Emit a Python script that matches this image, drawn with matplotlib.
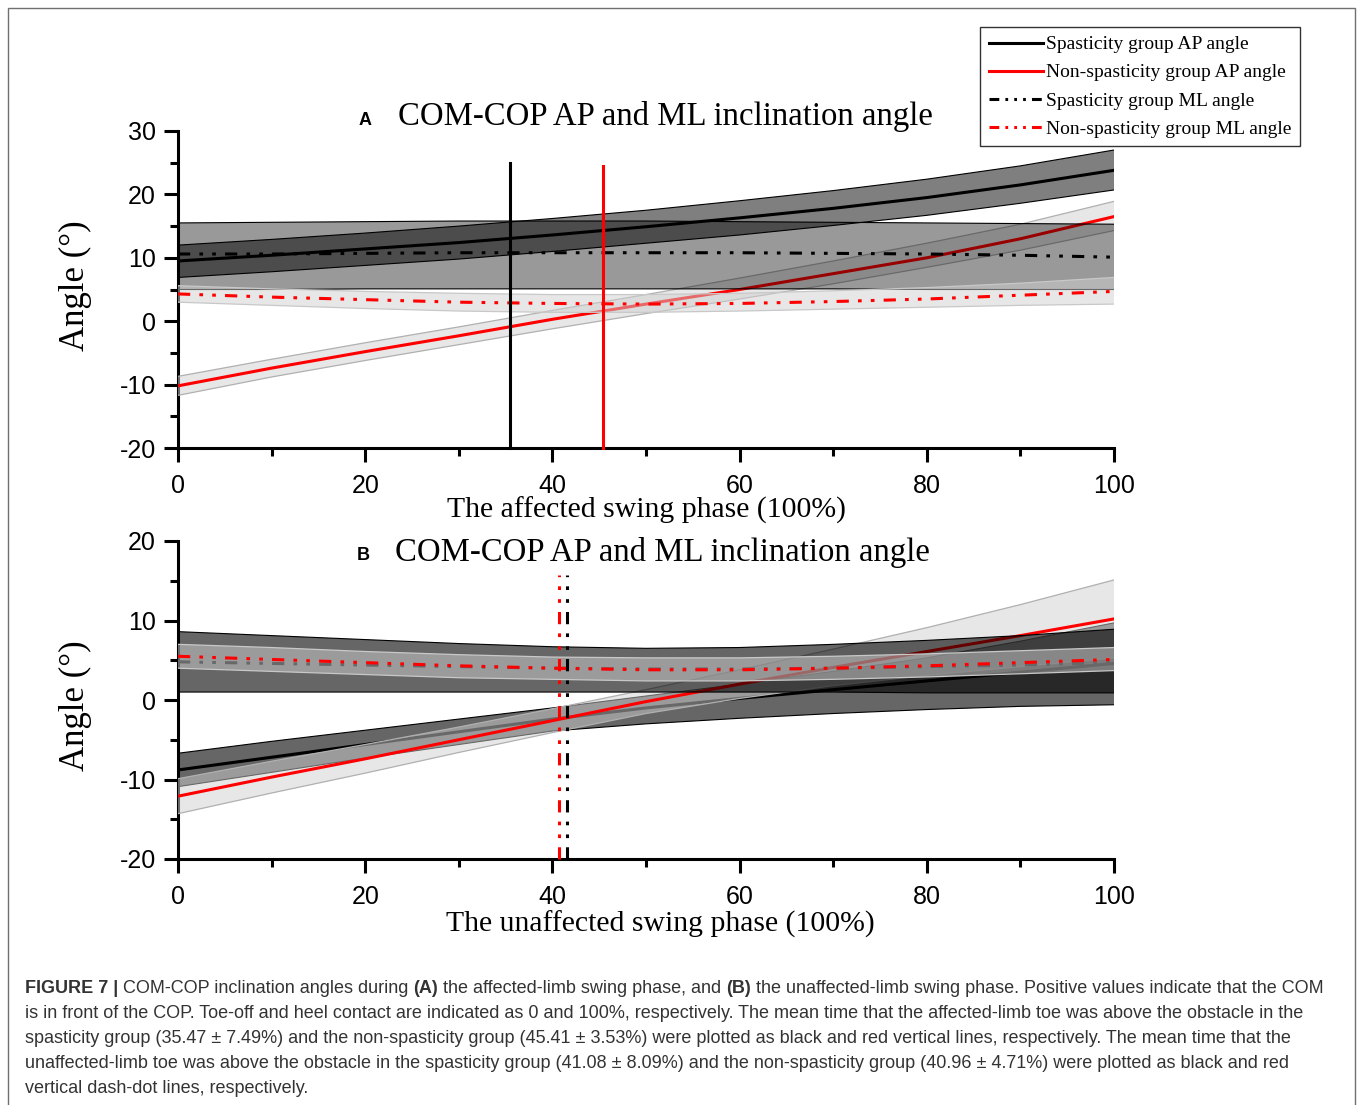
import numpy as np
import matplotlib
matplotlib.use("Agg")
import matplotlib.pyplot as plt
from matplotlib.lines import Line2D
from matplotlib.patches import Rectangle
from matplotlib.ticker import MultipleLocator

plt.rcParams["axes.unicode_minus"] = False

# ---------------- data ----------------
phase = [0, 10, 20, 30, 40, 50, 60, 70, 80, 90, 100]

# Panel A: affected swing phase
a_sp_ap      = [9.5, 10.4, 11.4, 12.4, 13.6, 14.9, 16.3, 17.8, 19.5, 21.5, 23.8]
a_sp_ap_hi   = [12.0, 12.9, 13.9, 15.0, 16.2, 17.5, 19.0, 20.6, 22.4, 24.5, 27.0]
a_sp_ap_lo   = [6.9, 7.8, 8.8, 9.8, 11.0, 12.3, 13.6, 15.1, 16.7, 18.6, 20.7]
a_ns_ap      = [-10.2, -7.4, -4.8, -2.3, 0.3, 2.7, 5.0, 7.5, 10.0, 13.0, 16.5]
a_ns_ap_hi   = [-8.7, -6.0, -3.4, -0.9, 1.7, 4.2, 6.8, 9.5, 12.3, 15.3, 18.9]
a_ns_ap_lo   = [-11.7, -8.8, -6.2, -3.7, -1.2, 1.2, 3.5, 5.9, 8.5, 11.2, 14.3]
a_sp_ml      = [10.6, 10.6, 10.7, 10.8, 10.8, 10.8, 10.8, 10.7, 10.6, 10.4, 10.1]
a_sp_ml_hi   = [15.5, 15.6, 15.7, 15.8, 15.8, 15.8, 15.7, 15.6, 15.5, 15.4, 15.3]
a_sp_ml_lo   = [5.0, 5.0, 5.1, 5.1, 5.1, 5.1, 5.1, 5.1, 5.0, 5.0, 5.0]
a_ns_ml      = [4.3, 3.8, 3.4, 3.0, 2.8, 2.7, 2.8, 3.1, 3.5, 4.1, 4.7]
a_ns_ml_hi   = [5.6, 5.1, 4.7, 4.4, 4.2, 4.2, 4.4, 4.8, 5.3, 6.0, 6.9]
a_ns_ml_lo   = [3.0, 2.5, 2.0, 1.6, 1.4, 1.4, 1.6, 1.9, 2.2, 2.5, 2.7]
a_vlines_x   = [35.47, 45.41]
a_vlines_top = [25.0, 24.5]

# Panel B: unaffected swing phase
b_sp_ap      = [-8.8, -7.2, -5.6, -4.0, -2.4, -1.0, 0.2, 1.3, 2.4, 3.5, 4.6]
b_sp_ap_hi   = [-6.7, -5.2, -3.8, -2.4, -1.0, 0.5, 2.0, 3.6, 5.3, 7.4, 9.7]
b_sp_ap_lo   = [-10.9, -9.1, -7.3, -5.6, -3.9, -3.0, -2.3, -1.7, -1.2, -0.8, -0.6]
b_ns_ap      = [-12.1, -9.7, -7.4, -5.0, -2.6, -0.2, 2.0, 4.1, 6.1, 8.1, 10.2]
b_ns_ap_hi   = [-9.9, -7.7, -5.6, -3.4, -1.1, 1.3, 3.8, 6.4, 9.1, 12.0, 15.1]
b_ns_ap_lo   = [-14.3, -11.7, -9.2, -6.6, -4.1, -1.7, 0.2, 1.8, 3.1, 4.2, 5.3]
b_sp_ml      = [4.8, 4.6, 4.4, 4.2, 4.0, 3.9, 3.9, 4.0, 4.2, 4.4, 4.7]
b_sp_ml_hi   = [8.6, 8.1, 7.6, 7.1, 6.7, 6.5, 6.6, 7.0, 7.5, 8.1, 8.9]
b_sp_ml_lo   = [1.0, 1.0, 1.0, 1.0, 1.0, 1.0, 1.0, 1.0, 0.9, 0.9, 0.9]
b_ns_ml      = [5.5, 5.1, 4.7, 4.3, 4.0, 3.8, 3.8, 4.0, 4.3, 4.7, 5.1]
b_ns_ml_hi   = [7.0, 6.6, 6.1, 5.7, 5.4, 5.3, 5.3, 5.5, 5.8, 6.2, 6.6]
b_ns_ml_lo   = [4.0, 3.6, 3.2, 2.8, 2.6, 2.4, 2.4, 2.6, 2.9, 3.3, 3.7]
b_vlines_x   = [41.6, 40.7]
b_vlines_top = [15.7, 15.7]

x_ticks = [0, 20, 40, 60, 80, 100]
a_yticks = [-20, -10, 0, 10, 20, 30]
b_yticks = [-20, -10, 0, 10, 20]

legend_labels = ["Spasticity group AP angle", "Non-spasticity group AP angle",
                 "Spasticity group ML angle", "Non-spasticity group ML angle"]

caption_lines = [
    None,
    "is in front of the COP. Toe-off and heel contact are indicated as 0 and 100%, respectively. The mean time that the affected-limb toe was above the obstacle in the",
    "spasticity group (35.47 \u00b1 7.49%) and the non-spasticity group (45.41 \u00b1 3.53%) were plotted as black and red vertical lines, respectively. The mean time that the",
    "unaffected-limb toe was above the obstacle in the spasticity group (41.08 \u00b1 8.09%) and the non-spasticity group (40.96 \u00b1 4.71%) were plotted as black and red",
    "vertical dash-dot lines, respectively.",
]
caption_first = [("FIGURE 7 |", "bold"), (" COM-COP inclination angles during ", "normal"),
                 ("(A)", "bold"), (" the affected-limb swing phase, and ", "normal"),
                 ("(B)", "bold"),
                 (" the unaffected-limb swing phase. Positive values indicate that the COM", "normal")]

# ---------------- styling ----------------
W, H = 1357, 1105
fig = plt.figure(figsize=(W / 100, H / 100), dpi=100)
SANS = "Liberation Sans"
SERIF = "Liberation Serif"
LW = 2.2
DDOT = (0, (4, 3, 1.2, 3, 1.2, 3))


def fx(px):
    return px / W


def fy(py):
    return 1 - py / H


def style_axes(ax, yticks, ylim):
    ax.set_xlim(0, 100)
    ax.set_ylim(*ylim)
    for s in ("top", "right"):
        ax.spines[s].set_visible(False)
    for s in ("left", "bottom"):
        ax.spines[s].set_linewidth(2.2)
    ax.set_xticks(x_ticks)
    ax.set_yticks(yticks)
    ax.xaxis.set_minor_locator(MultipleLocator(10))
    ax.yaxis.set_minor_locator(MultipleLocator(5))
    ax.tick_params(which="major", direction="out", length=10, width=2.2,
                   labelsize=18)
    ax.tick_params(which="minor", direction="out", length=6, width=2.2)
    ax.tick_params(axis="x", which="major", pad=9)
    ax.tick_params(axis="y", which="major", pad=6)
    for lab in ax.get_xticklabels() + ax.get_yticklabels():
        lab.set_fontfamily(SANS)


def draw_panel(ax, d, dark_alpha_ap, dark_alpha_ml):
    (sp_ap, sp_ap_hi, sp_ap_lo, ns_ap, ns_ap_hi, ns_ap_lo,
     sp_ml, sp_ml_hi, sp_ml_lo, ns_ml, ns_ml_hi, ns_ml_lo) = d
    # series 1: spasticity AP
    ax.fill_between(phase, sp_ap_lo, sp_ap_hi, facecolor="black",
                    alpha=dark_alpha_ap, linewidth=0, zorder=1)
    ax.plot(phase, sp_ap_hi, color="black", lw=0.8, zorder=1)
    ax.plot(phase, sp_ap_lo, color="black", lw=0.8, zorder=1)
    ax.plot(phase, sp_ap, color="black", lw=LW, zorder=2)
    # series 2: non-spasticity AP
    ax.fill_between(phase, ns_ap_lo, ns_ap_hi, facecolor="#d1d1d1",
                    alpha=0.5, linewidth=0, zorder=3)
    ax.plot(phase, ns_ap_hi, color="#b0b0b0", lw=0.9, zorder=3)
    ax.plot(phase, ns_ap_lo, color="#b0b0b0", lw=0.9, zorder=3)
    ax.plot(phase, ns_ap, color="#ff0000", lw=LW, zorder=4)
    # series 3: spasticity ML
    ax.fill_between(phase, sp_ml_lo, sp_ml_hi, facecolor="black",
                    alpha=dark_alpha_ml, linewidth=0, zorder=5)
    ax.plot(phase, sp_ml_hi, color="black", lw=0.8, zorder=5)
    ax.plot(phase, sp_ml_lo, color="black", lw=0.8, zorder=5)
    ax.plot(phase, sp_ml, color="black", lw=LW, ls=DDOT, zorder=6)
    # series 4: non-spasticity ML
    ax.fill_between(phase, ns_ml_lo, ns_ml_hi, facecolor="#d1d1d1",
                    alpha=0.5, linewidth=0, zorder=7)
    ax.plot(phase, ns_ml_hi, color="#c8c8c8", lw=0.9, zorder=7)
    ax.plot(phase, ns_ml_lo, color="#c8c8c8", lw=0.9, zorder=7)
    ax.plot(phase, ns_ml, color="#ff0000", lw=LW, ls=DDOT, zorder=8)


# ---------------- panel A ----------------
axA = fig.add_axes([fx(178), fy(448), fx(1114) - fx(178), fy(131) - fy(448)])
style_axes(axA, a_yticks, (-20, 30))
draw_panel(axA, (a_sp_ap, a_sp_ap_hi, a_sp_ap_lo, a_ns_ap, a_ns_ap_hi, a_ns_ap_lo,
                 a_sp_ml, a_sp_ml_hi, a_sp_ml_lo, a_ns_ml, a_ns_ml_hi, a_ns_ml_lo),
           0.5, 0.4)
for xv, top, c in zip(a_vlines_x, a_vlines_top, ["black", "#ff0000"]):
    axA.plot([xv, xv], [-20, top], color=c, lw=2.2, zorder=9, clip_on=False)

# ---------------- panel B ----------------
axB = fig.add_axes([fx(178), fy(859), fx(1114) - fx(178), fy(541) - fy(859)])
style_axes(axB, b_yticks, (-20, 20))
draw_panel(axB, (b_sp_ap, b_sp_ap_hi, b_sp_ap_lo, b_ns_ap, b_ns_ap_hi, b_ns_ap_lo,
                 b_sp_ml, b_sp_ml_hi, b_sp_ml_lo, b_ns_ml, b_ns_ml_hi, b_ns_ml_lo),
           0.6, 0.6)
for xv, top, c in zip(b_vlines_x, b_vlines_top, ["black", "#ff0000"]):
    axB.plot([xv, xv], [-20, top], color=c, lw=2.2, ls=DDOT, zorder=9, clip_on=False)

# ---------------- titles & labels ----------------
for letter, lx, ly, tx, ty in [("A", 365, 120, 398, 117), ("B", 363, 555, 395, 552)]:
    fig.text(fx(lx), fy(ly), letter, family=SANS, weight="bold", fontsize=13,
             ha="center", va="center")
    fig.text(fx(tx), fy(ty), "COM-COP AP and ML inclination angle", family=SERIF,
             fontsize=23.6, ha="left", va="center")

fig.text(fx(75), fy(286), "Angle (\u00b0)", family=SERIF, fontsize=25,
         rotation=90, ha="center", va="center")
fig.text(fx(75), fy(706), "Angle (\u00b0)", family=SERIF, fontsize=25,
         rotation=90, ha="center", va="center")
fig.text(fx(646), fy(510), "The affected swing phase (100%)", family=SERIF,
         fontsize=21.4, ha="center", va="center")
fig.text(fx(660), fy(924), "The unaffected swing phase (100%)", family=SERIF,
         fontsize=21.4, ha="center", va="center")

# ---------------- legend ----------------
LEG_LS = (0, (3.2, 2.0, 0.9, 2.0, 0.9, 2.0, 0.9, 2.0))
handles = [Line2D([], [], color="black", lw=LW),
           Line2D([], [], color="#ff0000", lw=LW),
           Line2D([], [], color="black", lw=LW, ls=LEG_LS),
           Line2D([], [], color="#ff0000", lw=LW, ls=LEG_LS)]
leg = fig.legend(handles, legend_labels, loc="upper left",
                 bbox_to_anchor=(fx(980), fy(27)), frameon=True, fancybox=False,
                 prop={"family": SERIF, "size": 14}, handlelength=2.8,
                 handletextpad=0.15, labelspacing=0.54, borderpad=0.45,
                 borderaxespad=0.0)
leg.get_frame().set_edgecolor("black")
leg.get_frame().set_linewidth(1.0)

# ---------------- caption ----------------
renderer = fig.canvas.get_renderer()
cap_color = "#333333"
probe = fig.text(0, 0, caption_lines[1], family=SANS, fontsize=14)
wprobe = probe.get_window_extent(renderer).width
probe.remove()
cap_fs = 14 * 1289 / wprobe

line_y = [988, 1013, 1038, 1063, 1088]
xcur = 25
for piece, wt in caption_first:
    t = fig.text(fx(xcur), fy(line_y[0] + 5), piece, family=SANS, weight=wt,
                 fontsize=cap_fs, color=cap_color, ha="left", va="baseline")
    xcur += t.get_window_extent(renderer).width
for i in range(1, 5):
    fig.text(fx(25), fy(line_y[i] + 5), caption_lines[i], family=SANS,
             fontsize=cap_fs, color=cap_color, ha="left", va="baseline")

# ---------------- outer frame ----------------
fig.add_artist(Rectangle((fx(8), -0.02), fx(1355) - fx(8), fy(8) + 0.02,
                         transform=fig.transFigure, fill=False,
                         edgecolor="#707070", lw=1.0, clip_on=False))

fig.savefig("out.png", dpi=100)
